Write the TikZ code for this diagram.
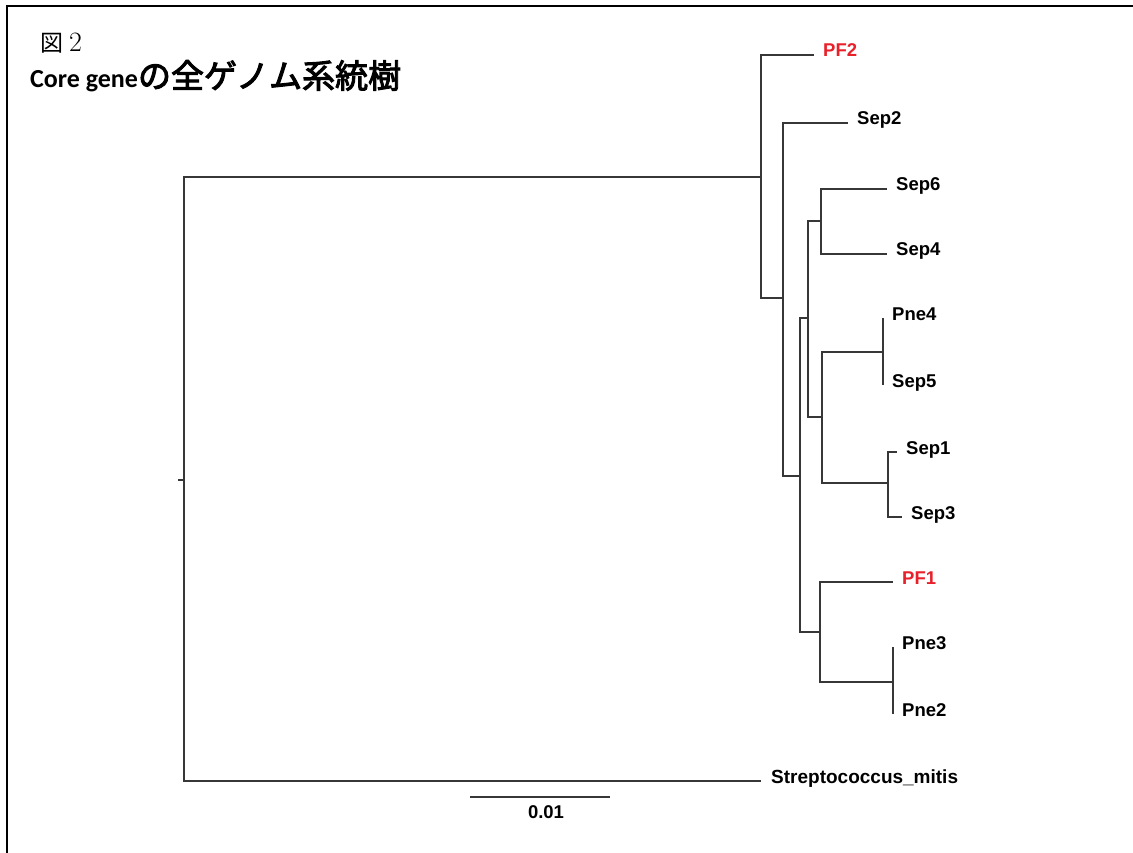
\documentclass[tikz,border=0pt]{standalone}
\usepackage{fontspec}
\newfontfamily\treefont{Liberation Sans}
\newfontfamily\titlefont{Carlito}
\newfontfamily\jpfont{Noto Sans CJK JP}
\newfontfamily\jptitle{Noto Sans CJK JP}[FakeBold=3]
\definecolor{pfred}{RGB}{232,32,42}
\definecolor{branchgray}{RGB}{55,55,55}

\begin{document}
\begin{tikzpicture}[x=1pt, y=-1pt,
    branch/.style={draw=branchgray, line width=1.4pt},
    leaf/.style={anchor=base west, inner sep=0pt, xshift=9pt, yshift=-2pt,
      font=\fontsize{18.5}{18.5}\selectfont\treefont\bfseries},
    pfleaf/.style={leaf, text=pfred}]
    \useasboundingbox (0,0) rectangle (1133,853);
    % frame
    \draw[line width=2pt] (7,853) -- (7,6.5) -- (1133,6.5);
    % title
    \node[anchor=base west, inner sep=0pt, font=\fontsize{23}{23}\selectfont] (fig) at (40,52)
      {\jpfont 図\hspace{6pt}\fontsize{28}{28}\selectfont\rmfamily 2};
    \node[anchor=base west, inner sep=0pt, font=\fontsize{26}{26}\selectfont] (title) at (30,88)
      {\titlefont\bfseries Core gene\jptitle\mdseries\fontsize{33}{33}\selectfont の全ゲノム系統樹};
    % internal nodes
    \coordinate (stub) at (178,480);
    \coordinate (R) at (184,480);
    \coordinate (A) at (761,177);
    \coordinate (B) at (783,298);
    \coordinate (C) at (800,476);
    \coordinate (D) at (808,318);
    \coordinate (E) at (820,632);
    \coordinate (F) at (821,221);
    \coordinate (G) at (822,417);
    \coordinate (H) at (883,352);
    \coordinate (I) at (888,483);
    \coordinate (J) at (893,682);
    % tips
    \coordinate (tPF2) at (814,55);
    \coordinate (tSep2) at (848,123);
    \coordinate (tSep6) at (887,189);
    \coordinate (tSep4) at (887,254);
    \coordinate (tPne4) at (883,318);
    \coordinate (tSep5) at (883,385);
    \coordinate (tSep1) at (897,452);
    \coordinate (tSep3) at (902,517);
    \coordinate (tPF1) at (893,582);
    \coordinate (tPne3) at (893,647);
    \coordinate (tPne2) at (893,714);
    \coordinate (tMit) at (761,781);
    % branches
    \draw[branch] (stub) -- (R);
    \draw[branch] (R) |- (A);
    \draw[branch] (R) |- (tMit);
    \draw[branch] (A) |- (tPF2);
    \draw[branch] (A) |- (B);
    \draw[branch] (B) |- (tSep2);
    \draw[branch] (B) |- (C);
    \draw[branch] (C) |- (D);
    \draw[branch] (C) |- (E);
    \draw[branch] (D) |- (F);
    \draw[branch] (D) |- (G);
    \draw[branch] (F) |- (tSep6);
    \draw[branch] (F) |- (tSep4);
    \draw[branch] (G) |- (H);
    \draw[branch] (G) |- (I);
    \draw[branch] (H) |- (tPne4);
    \draw[branch] (H) |- (tSep5);
    \draw[branch] (I) |- (tSep1);
    \draw[branch] (I) |- (tSep3);
    \draw[branch] (E) |- (tPF1);
    \draw[branch] (E) |- (J);
    \draw[branch] (J) |- (tPne3);
    \draw[branch] (J) |- (tPne2);
    % leaf labels
    \node[pfleaf] (lPF2) at (tPF2) {PF2};
    \node[leaf] (lSep2) at (tSep2) {Sep2};
    \node[leaf] (lSep6) at (tSep6) {Sep6};
    \node[leaf] (lSep4) at (tSep4) {Sep4};
    \node[leaf] (lPne4) at (tPne4) {Pne4};
    \node[leaf] (lSep5) at (tSep5) {Sep5};
    \node[leaf] (lSep1) at (tSep1) {Sep1};
    \node[leaf] (lSep3) at (tSep3) {Sep3};
    \node[pfleaf] (lPF1) at (tPF1) {PF1};
    \node[leaf] (lPne3) at (tPne3) {Pne3};
    \node[leaf] (lPne2) at (tPne2) {Pne2};
    \node[leaf, xshift=1pt, font=\fontsize{19}{19}\selectfont\treefont\bfseries] (lMit) at (tMit) {Streptococcus\_mitis};
    % scale bar
    \coordinate (sb1) at (470,797);
    \coordinate (sb2) at (610,797);
    \draw[branch] (sb1) -- (sb2);
    \node[inner sep=0pt, anchor=base, font=\fontsize{18.5}{18.5}\selectfont\treefont\bfseries] (sbl) at (546,818) {0.01};
\end{tikzpicture}
\end{document}
